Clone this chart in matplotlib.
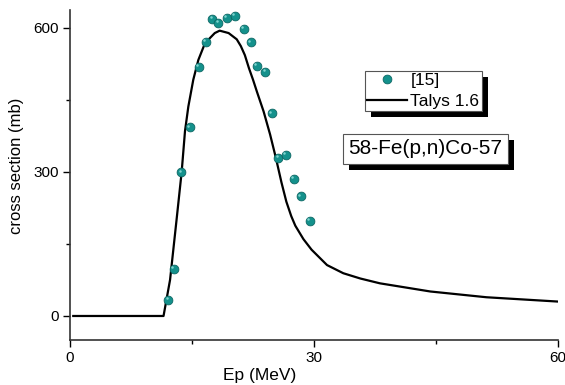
import matplotlib
matplotlib.use('Agg')
import matplotlib.pyplot as plt
from matplotlib.patches import Rectangle
from matplotlib.transforms import offset_copy

# experimental data [15]
exp_energy = [12.1, 12.8, 13.7, 14.75, 15.8, 16.7, 17.5, 18.25, 19.25, 20.3,
              21.4, 22.2, 23.0, 24.0, 24.8, 25.6, 26.55, 27.55, 28.4, 29.5]
exp_xs = [33, 98, 299, 393, 519, 571, 618, 610, 620, 625,
          598, 570, 521, 508, 422, 329, 335, 285, 249, 198]

# Talys 1.6 calculation
talys_energy = [0.4, 11.5, 12.3, 13.1, 13.73, 14.14, 14.55, 15.16, 15.78, 16.6,
                17.8, 18.4, 19.5, 20.5, 21.0, 21.5, 22.0, 22.5, 23.0, 23.8,
                24.6, 25.3, 26.0, 26.6, 27.2, 27.7, 28.7, 29.7, 31.6, 33.6,
                35.7, 38.1, 44.3, 51.2, 60.0]
talys_xs = [0, 0, 75, 200, 300, 385, 436, 492, 533, 568,
            589, 594, 589, 576, 562, 543, 516, 492, 466, 426,
            378, 330, 278, 238, 208, 188, 160, 138, 106, 89,
            78, 68, 51, 39, 30]

xticks = [0, 30, 60]
yticks = [0, 300, 600]

plt.rcParams['font.family'] = ['Liberation Sans', 'DejaVu Sans']

fig = plt.figure(figsize=(5.65, 3.85), dpi=100)
ax = fig.add_axes([70 / 565, 45 / 385, 488 / 565, 330 / 385])

ax.plot(talys_energy, talys_xs, color='black', lw=1.6, label='Talys 1.6', zorder=2)
ax.plot(exp_energy, exp_xs, 'o', color='#14918c', mec='#0c6663', mew=0.6,
        ms=6.3, label='[15]', zorder=3)
# little highlight to give the dots a spherical look
hl = offset_copy(ax.transData, fig=fig, x=-1.2, y=1.2, units='points')
ax.plot(exp_energy, exp_xs, 'o', color='#7fd3cf', mew=0, ms=1.8,
        transform=hl, zorder=4)

ax.set_xlim(0, 60)
ax.set_ylim(-50, 637)
ax.set_xticks(xticks)
ax.set_yticks(yticks)
ax.set_xticks([15, 45], minor=True)
ax.set_yticks([150, 450], minor=True)
ax.tick_params(which='major', direction='out', length=5, width=1, labelsize=11, pad=3)
ax.tick_params(which='minor', direction='out', length=3, width=1)
for s in ['top', 'right']:
    ax.spines[s].set_visible(False)
for s in ['left', 'bottom']:
    ax.spines[s].set_color('#333333')
    ax.spines[s].set_linewidth(1.2)

ax.set_xlabel('Ep (MeV)', fontsize=12.5)
ax.xaxis.set_label_coords(0.389, -0.085)
ax.set_ylabel('cross section (mb)', fontsize=12)
ax.yaxis.set_label_coords(-0.094, 0.527)

handles, labels = ax.get_legend_handles_labels()
leg = ax.legend(handles[::-1], labels[::-1], loc='upper left',
                bbox_to_anchor=((365 - 70) / 488, (340 - 71) / 330),
                fontsize=12.5, frameon=True, fancybox=False, framealpha=1,
                edgecolor='#555555', borderpad=0.12, labelspacing=0.3,
                handlelength=2.3, handletextpad=0.2, borderaxespad=0)
leg.get_frame().set_linewidth(0.8)
leg.set_zorder(6)

txt = ax.text(0.7285, 0.579, '58-Fe(p,n)Co-57', transform=ax.transAxes,
              fontsize=15, ha='center', va='center', zorder=6,
              bbox=dict(boxstyle='square,pad=0.25', fc='white', ec='#555555', lw=0.8))

# black drop shadows behind legend and label box
fig.canvas.draw()
for art in [leg, txt.get_bbox_patch()]:
    bb = art.get_window_extent()
    sh = Rectangle((bb.x0 + 6, bb.y0 - 6), bb.width, bb.height,
                   transform=None, facecolor='black', edgecolor='none', zorder=5)
    ax.add_artist(sh)
    sh.set_clip_on(False)

fig.savefig('out.png', dpi=100)
